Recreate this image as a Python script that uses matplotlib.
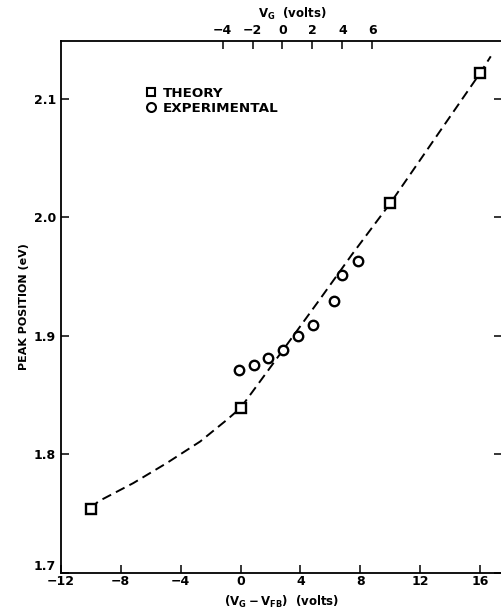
import numpy as np
import matplotlib
matplotlib.use("Agg")
import matplotlib.pyplot as plt

plt.rcParams['font.family'] = ['DejaVu Sans']
plt.rcParams['font.weight'] = 'bold'
plt.rcParams['axes.labelweight'] = 'bold'
plt.rcParams['mathtext.fontset'] = 'custom'
plt.rcParams['mathtext.rm'] = 'DejaVu Sans:bold'
plt.rcParams['mathtext.it'] = 'DejaVu Sans:bold'
plt.rcParams['mathtext.bf'] = 'DejaVu Sans:bold'

# theory points (V_G - V_FB, peak position)
theory_x = [-10, 0, 10, 16]
theory_y = [1.754, 1.839, 2.012, 2.122]

# experimental points
exp_x = [-0.12, 0.88, 1.84, 2.84, 3.83, 4.83, 6.24, 6.79, 7.87]
exp_y = [1.871, 1.875, 1.881, 1.888, 1.900, 1.909, 1.929, 1.951, 1.963]

# dashed theory curve
curve_x = [-10, -9.5, -7.16, -4.93, -2.69, -0.91, 0, 1.22, 2.78, 5.25, 7.46, 10, 13.16, 16, 16.7]
curve_y = [1.754, 1.760, 1.7755, 1.7924, 1.8107, 1.829, 1.839, 1.860, 1.887, 1.930, 1.969, 2.012, 2.070, 2.122, 2.136]

v_fb = -2.8
top_ticks = [-4, -2, 0, 2, 4, 6]
bottom_ticks = [-12, -8, -4, 0, 4, 8, 12, 16]
y_ticks = [1.7, 1.8, 1.9, 2.0, 2.1]

fig = plt.figure(figsize=(5.02, 6.11), dpi=100)
ax = fig.add_axes([0.121, 0.063, 0.879, 0.870])

ax.plot(curve_x, curve_y, color='black', lw=1.4, ls=(0, (5, 2.8)), zorder=1)
ax.plot(theory_x, theory_y, ls='none', marker='s', ms=6.5, mfc='white', mec='black', mew=1.7,
        zorder=3, label='THEORY')
ax.plot(exp_x, exp_y, ls='none', marker='o', ms=6.8, mfc='white', mec='black', mew=1.7,
        zorder=3, label='EXPERIMENTAL')

ax.set_xlim(-12, 17.45)
ax.set_ylim(1.7, 2.149)
ax.set_xticks(bottom_ticks)
ax.set_yticks(y_ticks)
ax.set_yticklabels(['1.7', '1.8', '1.9', '2.0', '2.1'])
ax.tick_params(direction='in', length=6, width=1.1, labelsize=9, right=True, top=False)
ax.tick_params(axis='x', pad=2)
ax.get_yticklabels()[0].set_va('bottom')
ax.spines['right'].set_visible(False)
for s in ['left', 'bottom', 'top']:
    ax.spines[s].set_linewidth(1.3)

ax.set_xlabel('$(V_G - V_{FB})$  (volts)', fontsize=8.5, labelpad=4)
ax.set_ylabel('PEAK POSITION (eV)', fontsize=8, labelpad=3)

sec = ax.secondary_xaxis('top', functions=(lambda x: x + v_fb, lambda v: v - v_fb))
sec.set_xticks(top_ticks)
sec.tick_params(direction='in', length=6, width=1.1, labelsize=9, pad=3)
sec.spines['top'].set_visible(False)
sec.set_xlabel('$V_G$  (volts)', fontsize=8.5, labelpad=4)
sec.xaxis.label.set_x(0.525)

leg = ax.legend(loc='upper left', bbox_to_anchor=(0.183, 0.924), frameon=False, fontsize=9.7,
                handlelength=0.6, handletextpad=0.6, labelspacing=0.15, borderaxespad=0,
                markerscale=0.95)
for h in leg.legend_handles:
    h.set_markeredgewidth(1.5)

fig.savefig('out.png', dpi=100)
